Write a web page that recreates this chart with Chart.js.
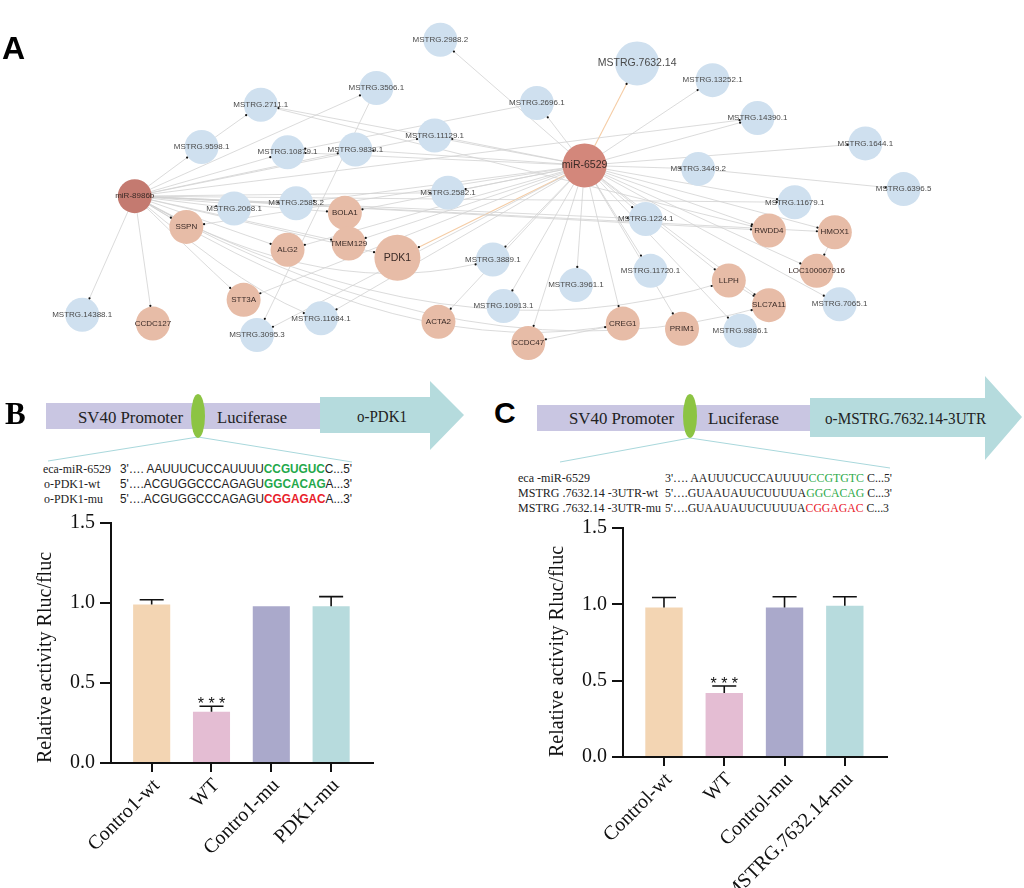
<!DOCTYPE html>
<html>
<head>
<meta charset="utf-8">
<script src="https://cdn.jsdelivr.net/npm/chart.js@4.4.1/dist/chart.umd.min.js"></script>
<style>
html, body { margin: 0; padding: 0; background: #fff; }
#page { position: relative; width: 1024px; height: 888px; overflow: hidden; }
canvas, svg { position: absolute; }
.panel { position: absolute; font-family: Arial, "Liberation Sans", sans-serif; font-weight: bold; color: #000; }
.serif { font-family: "Liberation Serif", "Times New Roman", serif; }
</style>
</head>
<body>
<div id="page">
  <svg id="schemes" width="1024" height="888" style="left:0;top:0">
    <!-- B construct -->
    <rect x="46" y="403" width="274" height="26" fill="#c9c6e2"/>
    <polygon points="320,397 430,397 430,381 464,415 430,450 430,433 320,433" fill="#b5dbdd"/>
    <line x1="198" y1="437" x2="48" y2="461" stroke="#a9d8dc" stroke-width="1"/>
    <line x1="198" y1="437" x2="352" y2="462" stroke="#a9d8dc" stroke-width="1"/>
    <ellipse cx="198" cy="416" rx="7" ry="22" fill="#8cc443"/>
    <text x="78" y="423" font-size="17" textLength="105" lengthAdjust="spacingAndGlyphs" class="serif" fill="#222">SV40 Promoter</text>
    <text x="217" y="423" font-size="17" textLength="70" lengthAdjust="spacingAndGlyphs" class="serif" fill="#222">Luciferase</text>
    <text x="357" y="422" font-size="16" textLength="50" lengthAdjust="spacingAndGlyphs" class="serif" fill="#222">o-PDK1</text>

    <!-- C construct -->
    <rect x="537" y="405" width="273" height="26" fill="#c9c6e2"/>
    <polygon points="810,398 985,398 985,376 1022,417 985,460 985,437 810,437" fill="#b5dbdd"/>
    <line x1="690" y1="438" x2="560" y2="462" stroke="#a9d8dc" stroke-width="1"/>
    <line x1="690" y1="438" x2="890" y2="468" stroke="#a9d8dc" stroke-width="1"/>
    <ellipse cx="690" cy="416" rx="7" ry="22" fill="#8cc443"/>
    <text x="569" y="424" font-size="17" textLength="105" lengthAdjust="spacingAndGlyphs" class="serif" fill="#222">SV40 Promoter</text>
    <text x="708" y="424" font-size="17" textLength="71" lengthAdjust="spacingAndGlyphs" class="serif" fill="#222">Luciferase</text>
    <text x="825" y="424" font-size="16" textLength="161" lengthAdjust="spacingAndGlyphs" class="serif" fill="#222">o-MSTRG.7632.14-3UTR</text>

    <!-- B sequences -->
    <g font-size="13" class="serif" fill="#222">
      <text x="43" y="473" textLength="68" lengthAdjust="spacingAndGlyphs">eca-miR-6529</text>
      <text x="44" y="488" textLength="56" lengthAdjust="spacingAndGlyphs">o-PDK1-wt</text>
      <text x="44" y="503" textLength="59" lengthAdjust="spacingAndGlyphs">o-PDK1-mu</text>
    </g>
    <g font-size="12.5" font-family="Arial, 'Liberation Sans', sans-serif" fill="#222">
      <text x="120" y="473" textLength="232" lengthAdjust="spacingAndGlyphs">3'…. AAUUUCUCCAUUUU<tspan fill="#22a84a" font-weight="bold">CCGUGUC</tspan>C...5'</text>
      <text x="120" y="488" textLength="232" lengthAdjust="spacingAndGlyphs">5'….ACGUGGCCCAGAGU<tspan fill="#22a84a" font-weight="bold">GGCACAG</tspan>A...3'</text>
      <text x="120" y="503" textLength="232" lengthAdjust="spacingAndGlyphs">5'….ACGUGGCCCAGAGU<tspan fill="#e8202a" font-weight="bold">CGGAGAC</tspan>A...3'</text>
    </g>

    <!-- C sequences -->
    <g font-size="12" class="serif" fill="#222">
      <text x="518" y="482" textLength="72" lengthAdjust="spacingAndGlyphs">eca -miR-6529</text>
      <text x="518" y="497" textLength="140" lengthAdjust="spacingAndGlyphs">MSTRG .7632.14 -3UTR-wt</text>
      <text x="518" y="512" textLength="143" lengthAdjust="spacingAndGlyphs">MSTRG .7632.14 -3UTR-mu</text>
      <text x="665" y="482" textLength="227" lengthAdjust="spacingAndGlyphs">3'…. AAUUUCUCCAUUUU<tspan fill="#2eaa4a">CCGTGTC</tspan> C...5'</text>
      <text x="665" y="497" textLength="227" lengthAdjust="spacingAndGlyphs">5'….GUAAUAUUCUUUUA<tspan fill="#2eaa4a">GGCACAG</tspan> C...3'</text>
      <text x="665" y="512" textLength="224" lengthAdjust="spacingAndGlyphs">5'….GUAAUAUUCUUUUA<tspan fill="#e8202a">CGGAGAC</tspan> C...3</text>
    </g>
  </svg>

  <canvas id="network" width="1024" height="380" style="left:0;top:0;width:1024px;height:380px"></canvas>
  <canvas id="barB" style="left:0;top:500px"></canvas>
  <canvas id="barC" style="left:512px;top:500px"></canvas>

  <div class="panel" style="left:2px;top:30px;font-size:32px">A</div>
  <div class="panel serif" style="left:5px;top:396px;font-size:31px">B</div>
  <div class="panel" style="left:494px;top:396px;font-size:30px">C</div>
</div>

<script>
// ---------- network (panel A) ----------
const nodeNames = [
  'miR-6529', 'miR-8986b',
  'MSTRG.2988.2', 'MSTRG.7632.14', 'MSTRG.13252.1', 'MSTRG.2696.1', 'MSTRG.3506.1',
  'MSTRG.2711.1', 'MSTRG.14390.1', 'MSTRG.9598.1', 'MSTRG.10879.1', 'MSTRG.9839.1',
  'MSTRG.11129.1', 'MSTRG.1644.1', 'MSTRG.3449.2', 'MSTRG.6396.5', 'MSTRG.2582.1',
  'MSTRG.2068.1', 'MSTRG.2588.2', 'MSTRG.3889.1', 'MSTRG.11679.1', 'MSTRG.1224.1',
  'MSTRG.11720.1', 'MSTRG.3961.1', 'MSTRG.7065.1', 'MSTRG.10913.1', 'MSTRG.14388.1',
  'MSTRG.11684.1', 'MSTRG.3095.3', 'MSTRG.9886.1',
  'BOLA1', 'SSPN', 'ALG2', 'TMEM129', 'PDK1', 'RWDD4', 'HMOX1', 'LOC100067916',
  'LLPH', 'SLC7A11', 'STT3A', 'CCDC127', 'ACTA2', 'CCDC47', 'CREG1', 'PRIM1'
]
const nodeKind = [
  'mirA', 'mirB',
  'lnc', 'lnc', 'lnc', 'lnc', 'lnc', 'lnc', 'lnc', 'lnc', 'lnc', 'lnc',
  'lnc', 'lnc', 'lnc', 'lnc', 'lnc', 'lnc', 'lnc', 'lnc', 'lnc', 'lnc',
  'lnc', 'lnc', 'lnc', 'lnc', 'lnc', 'lnc', 'lnc', 'lnc',
  'gene', 'gene', 'gene', 'gene', 'gene', 'gene', 'gene', 'gene',
  'gene', 'gene', 'gene', 'gene', 'gene', 'gene', 'gene', 'gene'
]
const nodeX = [
  588, 117,
  437, 643, 722, 538, 370, 249, 769, 187, 277, 348,
  431, 882, 707, 922, 445, 221, 286, 492, 808, 652,
  657, 579, 855, 503, 62, 312, 245, 751,
  337, 171, 277, 341, 392, 781, 850, 831,
  739, 781, 231, 136, 435, 529, 628, 690
]
const nodeY = [
  162, 197,
  19, 46, 65, 91, 74, 93, 108, 141, 147, 144,
  128, 137, 166, 189, 193, 211, 205, 269, 204, 223,
  282, 298, 320, 322, 332, 336, 355, 350,
  216, 232, 258, 251, 267, 236, 238, 282,
  293, 321, 315, 342, 340, 364, 342, 348
]
// degree-based node size
const nodeSize = nodeNames.map(n =>
  n === 'miR-6529' || n === 'MSTRG.7632.14' ? 22 : n === 'PDK1' ? 23 : 17)

const mir6529Targets = [
  'MSTRG.2988.2', 'MSTRG.7632.14', 'MSTRG.13252.1', 'MSTRG.2696.1', 'MSTRG.14390.1',
  'MSTRG.1644.1', 'MSTRG.3449.2', 'MSTRG.11679.1', 'MSTRG.1224.1', 'RWDD4', 'HMOX1',
  'LOC100067916', 'MSTRG.11720.1', 'MSTRG.3961.1', 'LLPH', 'SLC7A11', 'MSTRG.7065.1',
  'MSTRG.10913.1', 'CREG1', 'PRIM1', 'MSTRG.9886.1', 'MSTRG.3889.1', 'PDK1',
  'MSTRG.2582.1', 'MSTRG.11129.1', 'MSTRG.9839.1', 'MSTRG.10879.1', 'MSTRG.2711.1',
  'BOLA1', 'TMEM129', 'ALG2', 'MSTRG.2588.2', 'SSPN', 'STT3A', 'MSTRG.11684.1',
  'MSTRG.3095.3', 'ACTA2', 'CCDC47'
]
const mir8986bTargets = [
  'MSTRG.9598.1', 'MSTRG.10879.1', 'MSTRG.9839.1', 'MSTRG.11129.1', 'MSTRG.2582.1',
  'MSTRG.2068.1', 'MSTRG.2588.2', 'BOLA1', 'SSPN', 'ALG2', 'TMEM129', 'PDK1', 'STT3A',
  'MSTRG.14388.1', 'CCDC127', 'MSTRG.3506.1', 'RWDD4', 'HMOX1', 'MSTRG.1224.1',
  'MSTRG.11679.1', 'MSTRG.14390.1', 'LLPH', 'SLC7A11', 'MSTRG.3889.1', 'MSTRG.11684.1',
  'CREG1'
]
const otherEdges = [
  ['HMOX1', 'LOC100067916'], ['LLPH', 'SLC7A11'], ['CREG1', 'CCDC47'],
  ['MSTRG.9598.1', 'MSTRG.2711.1'], ['MSTRG.3449.2', 'MSTRG.6396.5'],
  ['MSTRG.2711.1', 'RWDD4'], ['MSTRG.3506.1', 'MSTRG.3095.3'], ['MSTRG.2696.1', 'MSTRG.10879.1']
]
const highlightTargets = ['MSTRG.7632.14', 'PDK1']
// miR-8986b edges drawn as sweeping arcs in the original layout
const arcedTargets = ['LLPH', 'SLC7A11', 'CREG1', 'MSTRG.11684.1', 'STT3A', 'MSTRG.3889.1']

const edges = [
  ...mir6529Targets.map(t => ['miR-6529', t]),
  ...mir8986bTargets.map(t => ['miR-8986b', t]),
  ...otherEdges
]

const kindColor = { mirA: '#d3877b', mirB: '#c47a70', lnc: '#cfe0ef', gene: '#e7bca7' }

function edgeGeometry(chart, a, b) {
  const { x, y } = chart.scales
  const i = nodeNames.indexOf(a), j = nodeNames.indexOf(b)
  const x1 = x.getPixelForValue(nodeX[i]), y1 = y.getPixelForValue(nodeY[i])
  const x2 = x.getPixelForValue(nodeX[j]), y2 = y.getPixelForValue(nodeY[j])
  const bend = a === 'miR-8986b' && arcedTargets.includes(b) ? 0.22 : 0
  const cx = (x1 + x2) / 2 + (y2 - y1) * bend
  const cy = (y1 + y2) / 2 + Math.abs(x2 - x1) * bend
  return { x1, y1, x2, y2, cx, cy, bend, j }
}

const edgePlugin = {
  id: 'edges',
  beforeDatasetsDraw(chart) {
    const { ctx } = chart
    ctx.save()
    edges.forEach(([a, b]) => {
      const g = edgeGeometry(chart, a, b)
      const hot = a === 'miR-6529' && highlightTargets.includes(b)
      ctx.strokeStyle = hot ? '#f5cda6' : '#d2d2d2'
      ctx.lineWidth = hot ? 1.1 : 0.8
      ctx.beginPath()
      ctx.moveTo(g.x1, g.y1)
      if (g.bend) ctx.quadraticCurveTo(g.cx, g.cy, g.x2, g.y2)
      else ctx.lineTo(g.x2, g.y2)
      ctx.stroke()
    })
    ctx.restore()
  },
  afterDatasetsDraw(chart) {
    const { ctx, scales: { x, y } } = chart
    ctx.save()
    // arrow ends
    ctx.fillStyle = '#111'
    edges.forEach(([a, b]) => {
      const g = edgeGeometry(chart, a, b)
      const fx = g.bend ? g.cx : g.x1, fy = g.bend ? g.cy : g.y1
      const d = Math.hypot(g.x2 - fx, g.y2 - fy)
      const r = nodeSize[g.j] + 1
      ctx.beginPath()
      ctx.arc(g.x2 - (g.x2 - fx) / d * r, g.y2 - (g.y2 - fy) / d * r, 1.1, 0, Math.PI * 2)
      ctx.fill()
    })
    // labels
    ctx.textAlign = 'center'
    ctx.textBaseline = 'middle'
    nodeNames.forEach((n, i) => {
      const big = n === 'miR-6529' || n === 'MSTRG.7632.14' || n === 'PDK1'
      ctx.font = (big ? '10.5px' : '8px') + ' Arial, "Liberation Sans", sans-serif'
      ctx.fillStyle = nodeKind[i] === 'lnc' ? '#4a4a4a' : '#3a2a26'
      ctx.fillText(n, x.getPixelForValue(nodeX[i]), y.getPixelForValue(nodeY[i]))
    })
    ctx.restore()
  }
}

new Chart(document.getElementById('network'), {
  type: 'bubble',
  data: {
    datasets: [{
      data: nodeNames.map((n, i) => ({ x: nodeX[i], y: nodeY[i], r: nodeSize[i] })),
      backgroundColor: nodeKind.map(k => kindColor[k]),
      borderWidth: 0,
      clip: false
    }]
  },
  options: {
    responsive: false,
    animation: false,
    events: [],
    layout: { padding: 0 },
    plugins: { legend: { display: false }, tooltip: { enabled: false } },
    scales: {
      x: { type: 'linear', min: 0, max: 1024, display: false },
      y: { type: 'linear', min: 0, max: 380, reverse: true, display: false }
    }
  },
  plugins: [edgePlugin]
})

// ---------- luciferase bar charts (panels B, C) ----------
const barLabelsB = ['Contro1-wt', 'WT', 'Contro1-mu', 'PDK1-mu']
const barValuesB = [0.99, 0.32, 0.98, 0.98]
const barErrorsB = [0.03, 0.035, 0, 0.06]

const barLabelsC = ['Control-wt', 'WT', 'Control-mu', 'MSTRG.7632.14-mu']
const barValuesC = [0.98, 0.42, 0.98, 0.99]
const barErrorsC = [0.065, 0.045, 0.07, 0.06]

const barColors = ['#f3d5b3', '#e4bdd3', '#aaa9cb', '#b7dbdd']
const yTickValues = [0, 0.5, 1.0, 1.5]
const sigMarks = ['', '***', '', '']

const serif = '"Liberation Serif", "Times New Roman", serif'

function errorPlugin(errors) {
  return {
    id: 'errorBars',
    afterDatasetsDraw(chart) {
      const { ctx, scales: { y } } = chart
      const meta = chart.getDatasetMeta(0)
      const values = chart.data.datasets[0].data
      ctx.save()
      ctx.strokeStyle = '#111'
      ctx.fillStyle = '#111'
      ctx.lineWidth = 1.6
      meta.data.forEach((bar, i) => {
        const top = y.getPixelForValue(values[i].y + errors[i])
        if (errors[i] > 0) {
          ctx.beginPath()
          ctx.moveTo(bar.x, bar.y)
          ctx.lineTo(bar.x, top)
          ctx.moveTo(bar.x - 12, top)
          ctx.lineTo(bar.x + 12, top)
          ctx.stroke()
        }
        if (sigMarks[i]) {
          ctx.font = '16px Arial, "Liberation Sans", sans-serif'
          ctx.textAlign = 'center'
          ctx.textBaseline = 'alphabetic'
          ctx.fillText(sigMarks[i].split('').join(' '), bar.x, top + 3)
        }
      })
      ctx.restore()
    }
  }
}

function makeBarChart(id, labels, values, errors, box) {
  const canvas = document.getElementById(id)
  canvas.width = box.w
  canvas.height = box.h
  canvas.style.width = box.w + 'px'
  canvas.style.height = box.h + 'px'
  return new Chart(canvas, {
    type: 'bar',
    data: {
      datasets: [{
        data: values.map((v, i) => ({ x: i, y: v })),
        backgroundColor: barColors,
        borderWidth: 0,
        barPercentage: 0.62,
        categoryPercentage: 1
      }]
    },
    options: {
      responsive: false,
      animation: false,
      events: [],
      layout: { padding: { left: 0, right: box.padRight, top: box.padTop, bottom: 0 } },
      plugins: { legend: { display: false }, tooltip: { enabled: false } },
      scales: {
        x: {
          type: 'linear',
          min: -0.68,
          max: 3.7,
          offset: false,
          afterBuildTicks: s => { s.ticks = labels.map((_, i) => ({ value: i })) },
          afterFit: s => { s.height = box.xHeight },
          grid: { offset: false, drawOnChartArea: false, drawTicks: true, tickLength: 9, color: '#111', lineWidth: 2 },
          border: { display: true, color: '#111', width: 2 },
          ticks: {
            autoSkip: false,
            minRotation: 45,
            maxRotation: 45,
            padding: 2,
            labelOffset: 5,
            color: '#111',
            font: { family: serif, size: 20 },
            callback: v => labels[v] ?? ''
          }
        },
        y: {
          min: 0,
          max: 1.5,
          afterBuildTicks: s => { s.ticks = yTickValues.map(v => ({ value: v })) },
          afterFit: s => { s.width = 111 },
          grid: { drawOnChartArea: false, drawTicks: true, tickLength: 11, color: '#111', lineWidth: 2 },
          border: { display: true, color: '#111', width: 2 },
          ticks: {
            padding: 5,
            color: '#111',
            font: { family: serif, size: 20 },
            callback: v => Number(v).toFixed(1)
          },
          title: {
            display: true,
            text: 'Relative activity Rluc/fluc',
            align: 'start',
            color: '#111',
            font: { family: serif, size: 20 },
            padding: { top: 34, bottom: 0 }
          }
        }
      }
    },
    plugins: [errorPlugin(errors)]
  })
}

makeBarChart('barB', barLabelsB, barValuesB, barErrorsB,
  { w: 400, h: 388, padRight: 27, padTop: 23, xHeight: 125 })
makeBarChart('barC', barLabelsC, barValuesC, barErrorsC,
  { w: 512, h: 388, padRight: 137, padTop: 28, xHeight: 131 })
</script>
</body>
</html>
